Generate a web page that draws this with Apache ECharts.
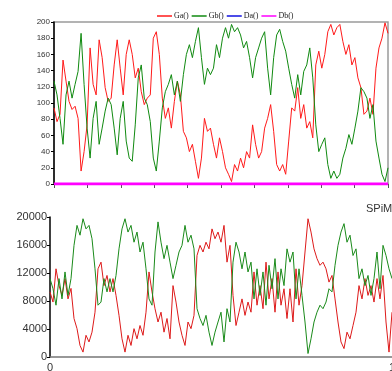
<!DOCTYPE html>
<html>
<head>
<meta charset="utf-8">
<script src="https://cdn.jsdelivr.net/npm/echarts@6/dist/echarts.min.js"></script>
<style>
  html, body { margin: 0; padding: 0; background: #fff; }
  #chart { width: 392px; height: 371px; }
</style>
</head>
<body>
<div id="chart"></div>
<script>
// top panel (Gillespie-style run)
const gaValues = [94,77,86,153,127,102,92,96,81,16,40,73,168,123,110,178,156,119,102,106,147,178,143,110,160,178,160,131,143,114,98,106,110,180,188,160,106,81,94,69,102,127,110,65,57,40,49,28,7,32,81,65,69,49,32,57,
  40,20,12,3,24,16,32,20,40,32,73,49,32,40,69,81,98,65,24,16,24,12,53,94,90,119,81,98,69,77,57,147,164,143,160,188,197,184,193,197,176,160,172,147,156,131,119,86,90,106,86,143,168,180,199,186];
const gbValues = [127,110,81,49,110,127,106,123,139,186,123,69,32,81,102,49,69,90,106,98,69,36,81,102,53,32,28,73,131,147,106,98,77,32,16,53,94,114,123,135,110,127,102,135,160,172,156,176,193,156,123,143,135,143,172,156,
  180,193,180,197,188,193,184,168,176,156,131,156,168,180,188,143,110,156,184,191,176,164,143,123,106,135,110,139,147,168,131,73,40,49,57,24,7,16,7,12,32,44,61,49,69,90,119,114,106,81,98,53,32,12,3,20];
const daValues = [0,0,0,0,0,0,0,0,0,0,0,0,0,0,0,0,0,0,0,0,0,0,0,0,0,0,0,0,0,0,0,0,0,0,0,0,0,0,0,0,0,0,0,0,0,0,0,0,0,0,0,0,0,0,0,0,
  0,0,0,0,0,0,0,0,0,0,0,0,0,0,0,0,0,0,0,0,0,0,0,0,0,0,0,0,0,0,0,0,0,0,0,0,0,0,0,0,0,0,0,0,0,0,0,0,0,0,0,0,0,0,0,0];
const dbValues = daValues.slice();
const topNames = ['Ga()', 'Gb()', 'Da()', 'Db()'];
const topTicks = [0, 20, 40, 60, 80, 100, 120, 140, 160, 180, 200];

// bottom panel (SPiM run)
const spimRed = [9300,7850,12600,10200,8800,11200,8300,9800,5500,4050,1650,700,3100,2150,3550,6400,12600,13550,10200,11650,9300,11200,8800,5950,2600,700,3100,1650,4050,2600,4500,3100,6400,12150,9300,6900,5000,6400,3550,5500,2600,10200,7850,5000,3100,1650,5000,4050,5950,14500,15950,15000,16400,15450,18300,16900,17850,
  16400,18800,13550,15950,8800,4500,6400,8300,5950,7850,6400,12150,7400,10200,6900,13550,8300,11200,6400,12150,7400,9750,5500,9750,5000,12600,7400,10200,15000,19750,17850,15450,14050,13100,13550,12600,10700,11650,8300,5000,2150,1200,3550,2600,4500,6400,10200,8300,11200,8800,10200,7850,11200,8300,11650,5000,700,6400];
const spimGreen = [11200,9750,7400,11200,8300,12150,8800,11200,15950,18800,17400,19750,18300,18800,16900,12600,7400,7850,11200,9300,11200,9300,11650,15450,18300,19750,17850,18800,16400,17850,15000,16400,12600,8300,7400,15000,19300,16400,14050,15950,13550,11200,13100,15000,15950,18800,16400,17400,15450,6900,5500,4500,5950,3550,1650,3550,5000,
  6400,2150,6900,5000,13550,16400,15000,12600,15000,12150,13550,8300,12600,8800,12150,7400,13100,9750,14050,8300,12600,10200,15450,13550,15000,8300,12600,8800,5000,500,2600,5000,6400,7400,6900,7850,9750,9300,13100,15950,17850,19050,16400,17400,14500,15450,11200,12600,10200,11650,8800,11200,15000,9750,15950,14500,12600,11200];
const spimTicks = [0, 4000, 8000, 12000, 16000, 20000];

const chart = echarts.init(document.getElementById('chart'));

function indexed(arr) {
  return arr.map((v, i) => [i, v]);
}
function unitSpan(arr) {
  return arr.map((v, i) => [i / (arr.length - 1), v]);
}

const topLast = gaValues.length - 1;
const lineBase = { type: 'line', symbol: 'none', animation: false, lineStyle: { width: 1 } };

chart.setOption({
  backgroundColor: '#fff',
  textStyle: { fontFamily: 'Liberation Sans, Arial, sans-serif' },
  legend: {
    data: topNames,
    left: 152,
    top: 7,
    icon: 'rect',
    itemWidth: 15,
    itemHeight: 1.5,
    itemGap: 3,
    textStyle: { fontFamily: 'Liberation Serif, Times New Roman, serif', fontSize: 8, color: '#222', padding: [0, 0, 0, -3] }
  },
  graphic: [{
    type: 'text',
    left: 366,
    top: 203,
    style: { text: 'SPiM', font: '11px Liberation Sans, Arial, sans-serif', fill: '#333' }
  }],
  grid: [
    { left: 54, top: 22, width: 334, height: 162, show: true, borderColor: '#9a9a9a', borderWidth: 1.5, outerBoundsMode: 'none' },
    { left: 50, top: 217, width: 342, height: 140, outerBoundsMode: 'none' }
  ],
  xAxis: [
    {
      gridIndex: 0, type: 'value', min: 0, max: topLast, interval: topLast / 10,
      axisLine: { lineStyle: { color: '#8a8a8a', width: 1.5 } },
      axisTick: { length: 4, lineStyle: { color: '#555' } },
      axisLabel: { show: false },
      splitLine: { show: false }
    },
    {
      gridIndex: 1, type: 'value', min: 0, max: 1, interval: 1,
      axisLine: { lineStyle: { color: '#777', width: 1.5 } },
      axisTick: { show: false },
      axisLabel: { fontSize: 11, color: '#333', margin: 5 },
      splitLine: { show: false }
    }
  ],
  yAxis: [
    {
      gridIndex: 0, type: 'value', min: topTicks[0], max: topTicks[topTicks.length - 1], interval: 20,
      axisLine: { show: true, lineStyle: { color: '#000', width: 1.5 } },
      axisTick: { show: true, length: 3, lineStyle: { color: '#000' } },
      axisLabel: { fontSize: 8, color: '#333', margin: 4, formatter: (v) => String(v) },
      splitLine: { show: false }
    },
    {
      gridIndex: 1, type: 'value', min: spimTicks[0], max: spimTicks[spimTicks.length - 1], interval: 4000,
      axisLine: { show: true, lineStyle: { color: '#000', width: 1.5 } },
      axisTick: { show: true, length: 3, lineStyle: { color: '#000' } },
      axisLabel: { fontSize: 11, color: '#333', margin: 3, formatter: (v) => String(v) },
      splitLine: { show: false }
    }
  ],
  series: [
    Object.assign({}, lineBase, { name: topNames[0], xAxisIndex: 0, yAxisIndex: 0, color: '#ff1a1a', data: indexed(gaValues) }),
    Object.assign({}, lineBase, { name: topNames[1], xAxisIndex: 0, yAxisIndex: 0, color: '#108a10', data: indexed(gbValues) }),
    Object.assign({}, lineBase, { name: topNames[2], xAxisIndex: 0, yAxisIndex: 0, color: '#1010e0', data: indexed(daValues), lineStyle: { width: 2 } }),
    Object.assign({}, lineBase, { name: topNames[3], xAxisIndex: 0, yAxisIndex: 0, color: '#ff00ff', data: indexed(dbValues), lineStyle: { width: 3 } }),
    Object.assign({}, lineBase, { name: 'spimRed', xAxisIndex: 1, yAxisIndex: 1, color: '#dd1a1a', data: unitSpan(spimRed) }),
    Object.assign({}, lineBase, { name: 'spimGreen', xAxisIndex: 1, yAxisIndex: 1, color: '#1a8a1a', data: unitSpan(spimGreen) })
  ]
});
</script>
</body>
</html>
